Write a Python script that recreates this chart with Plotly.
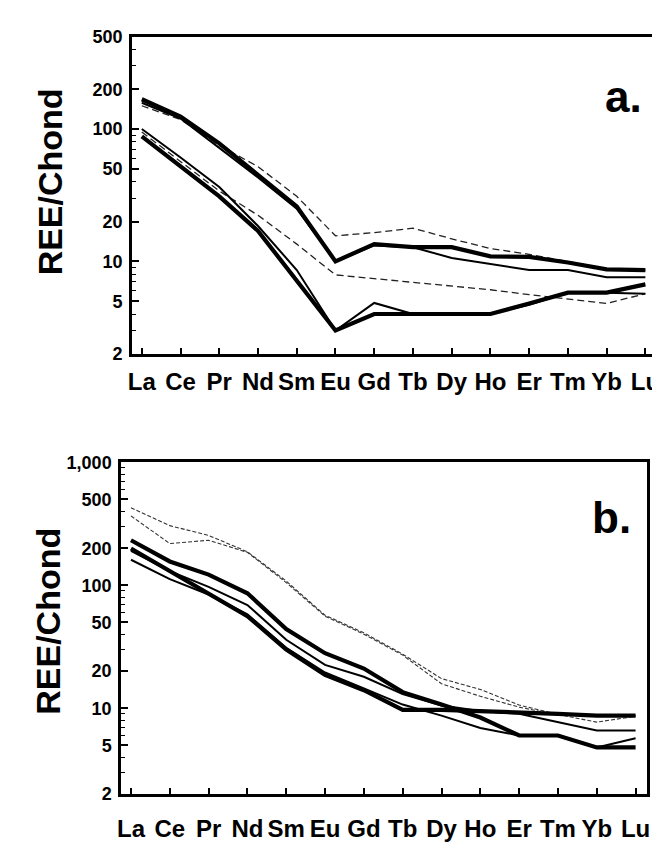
import math
import plotly.graph_objects as go

# ---------------- data ----------------
ree = ["La", "Ce", "Pr", "Nd", "Sm", "Eu", "Gd", "Tb", "Dy", "Ho", "Er", "Tm", "Yb", "Lu"]

# panel a
a_thick_upper = [168, 124, 78, 45, 26, 10, 13.5, 12.8, 12.8, 10.9, 10.8, 9.8, 8.7, 8.6]
a_thin_upper = [158, 120, 72, 43, 25, 10, 13.2, 12.8, 10.6, 9.6, 8.6, 8.6, 7.6, 7.6]
a_dash_upper = [150, 118, 75, 52, 31, 15.6, 16.5, 17.8, 14.8, 12.5, 11.3, 10.0, 8.8, 8.6]
a_thin_lower = [100, 61, 36.5, 18.5, 8.6, 3.0, 4.85, 4.0, 4.0, 4.0, 4.7, 5.8, 5.8, 5.7]
a_thick_lower = [88, 52, 31, 17, 7.2, 3.0, 4.0, 4.0, 4.0, 4.0, 4.8, 5.8, 5.8, 6.7]
a_dash_lower = [95, 57, 34, 22.3, 13.5, 7.9, 7.4, 6.9, 6.5, 6.1, 5.6, 5.2, 4.8, 5.7]

# panel b
b_thick_1 = [232, 156, 122, 86, 44, 28, 21, 13.5, 10.7, 8.4, 6.0, 6.0, 4.8, 4.8]
b_thick_2 = [199, 130, 84, 56, 30, 18.7, 14, 9.7, 9.7, 9.5, 9.2, 9.0, 8.7, 8.7]
b_thin_1 = [161, 112, 84, 58, 31, 19.5, 14.5, 10.7, 8.7, 6.9, 6.0, 6.0, 4.8, 5.7]
b_thin_2 = [190, 130, 97, 69, 36, 22.5, 18, 13, 10.5, 9.5, 9.0, 7.7, 6.6, 6.6]
b_dash_1 = [426, 305, 254, 187, 108, 57, 41, 27.5, 17.4, 14.2, 10.6, 8.9, 7.7, 8.6]
b_dash_2 = [366, 218, 232, 185, 105, 56, 40, 27, 15.8, 12.5, 10.2, 8.8, 8.7, 8.7]

a_ticks = [2, 5, 10, 20, 50, 100, 200, 500]
a_ticktext = ["2", "5", "10", "20", "50", "100", "200", "500"]
b_ticks = [2, 5, 10, 20, 50, 100, 200, 500, 1000]
b_ticktext = ["2", "5", "10", "20", "50", "100", "200", "500", "1,000"]

# ---------------- figure ----------------
W, H = 660, 844
FONT = "Liberation Sans, Arial, sans-serif"

fig = go.Figure()


def add(vals, xa, ya, width, dash="solid", color="black"):
    fig.add_trace(go.Scatter(
        x=ree, y=vals, mode="lines", xaxis=xa, yaxis=ya,
        line=dict(color=color, width=width, dash=dash),
        showlegend=False, hoverinfo="skip"))


# panel a traces
add(a_dash_upper, "x", "y", 1.3, "7px,4px", "#222")
add(a_dash_lower, "x", "y", 1.3, "7px,4px", "#222")
add(a_thin_upper, "x", "y", 2.0)
add(a_thin_lower, "x", "y", 2.0)
add(a_thick_upper, "x", "y", 4.2)
add(a_thick_lower, "x", "y", 4.2)

# panel b traces
add(b_dash_1, "x2", "y2", 1.1, "4px,2px", "#333")
add(b_dash_2, "x2", "y2", 1.1, "4px,2px", "#333")
add(b_thin_1, "x2", "y2", 2.0)
add(b_thin_2, "x2", "y2", 2.0)
add(b_thick_1, "x2", "y2", 4.2)
add(b_thick_2, "x2", "y2", 4.2)


def px_x(p):
    return p / W


def px_y(p):
    return 1 - p / H


common_x = dict(
    type="category", showline=True, linewidth=2.8, linecolor="black", mirror=True,
    ticks="inside", ticklen=6, tickwidth=1.5, tickcolor="black",
    showgrid=False, zeroline=False, tickangle=0,
    tickfont=dict(family=FONT, size=24, color="black", weight="bold"),
)
common_y = dict(
    type="log", showline=True, linewidth=2.8, linecolor="black", mirror=True,
    ticks="inside", ticklen=7, tickwidth=1.5, tickcolor="black",
    showgrid=False, zeroline=False, ticklabelstandoff=3,
    tickfont=dict(family=FONT, size=18, color="black", weight="bold"),
    minor=dict(ticks="inside", ticklen=4, tickwidth=1, tickcolor="black", dtick="D1", showgrid=False),
)

fig.update_layout(
    width=W, height=H, margin=dict(l=0, r=0, t=0, b=0),
    paper_bgcolor="white", plot_bgcolor="white",
    xaxis=dict(common_x, domain=[px_x(122), px_x(652)], anchor="y",
               range=[-0.254, 13.2], ticklabelstandoff=4),
    yaxis=dict(common_y, domain=[px_y(344), px_y(19)], anchor="x",
               range=[math.log10(2), math.log10(500)],
               tickvals=a_ticks, ticktext=a_ticktext),
    xaxis2=dict(common_x, domain=[px_x(111), px_x(646)], anchor="y2",
                range=[-0.253, 13.3], ticklabelstandoff=11),
    yaxis2=dict(common_y, domain=[px_y(795), px_y(455)], anchor="x2",
                range=[math.log10(2), 3],
                tickvals=b_ticks, ticktext=b_ticktext),
)

ann_font = dict(family=FONT, color="black", weight="bold")
fig.add_annotation(text="REE/Chond", x=px_x(39), y=px_y(168), xref="paper", yref="paper",
                   textangle=-90, showarrow=False, xanchor="center", yanchor="middle",
                   font=dict(ann_font, size=34))
fig.add_annotation(text="REE/Chond", x=px_x(37), y=px_y(618), xref="paper", yref="paper",
                   textangle=-90, showarrow=False, xanchor="center", yanchor="middle",
                   font=dict(ann_font, size=34))
fig.add_annotation(text="a.", x=px_x(622), y=px_y(80), xref="paper", yref="paper",
                   showarrow=False, xanchor="center", yanchor="middle",
                   font=dict(ann_font, size=44))
fig.add_annotation(text="b.", x=px_x(610), y=px_y(512), xref="paper", yref="paper",
                   showarrow=False, xanchor="center", yanchor="middle",
                   font=dict(ann_font, size=44))

fig.write_html("out.html")
